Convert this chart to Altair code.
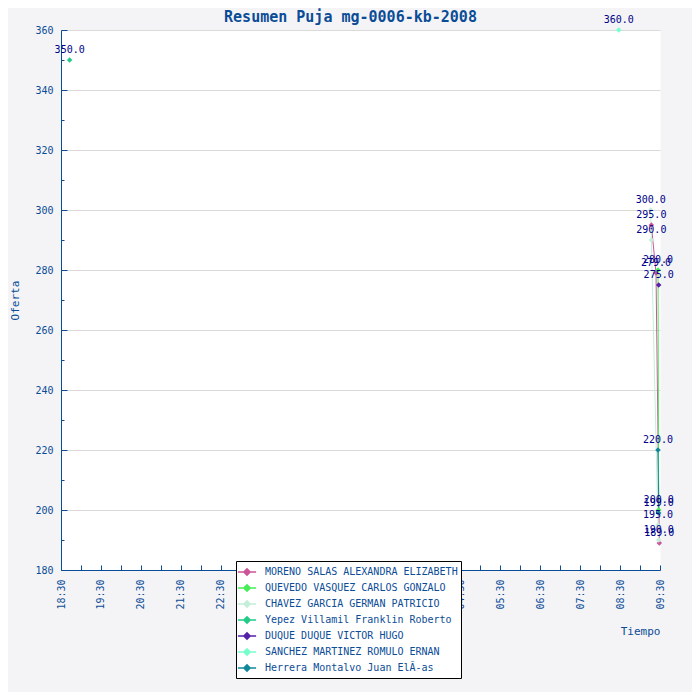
import altair as alt
import pandas as pd

# ---------------- data ----------------
names = [
    "MORENO SALAS ALEXANDRA ELIZABETH",
    "QUEVEDO VASQUEZ CARLOS GONZALO",
    "CHAVEZ GARCIA GERMAN PATRICIO",
    "Yepez Villamil Franklin Roberto",
    "DUQUE DUQUE VICTOR HUGO",
    "SANCHEZ MARTINEZ ROMULO ERNAN",
    "Herrera Montalvo Juan ElÃ-as",
]
colors = ["#cc5599", "#44ee55", "#c4eed8", "#22cc88", "#5522aa", "#77ffcc", "#118899"]

moreno_t = ["09:17", "09:24", "09:29"]
moreno_v = [295, 279, 189]
quevedo_t = ["09:27", "09:28"]
quevedo_v = [280, 200]
chavez_t = ["09:16", "09:17", "09:27", "09:28"]
chavez_v = [300, 290, 195, 190]
yepez_t = ["18:43"]
yepez_v = [350]
duque_t = ["09:28"]
duque_v = [275]
sanchez_t = ["08:28"]
sanchez_v = [360]
herrera_t = ["09:27", "09:28"]
herrera_v = [220, 199]

x_labels = ["18:30", "19:30", "20:30", "21:30", "22:30", "23:30", "00:30", "01:30",
            "02:30", "03:30", "04:30", "05:30", "06:30", "07:30", "08:30", "09:30"]
y_labels = [180, 200, 220, 240, 260, 280, 300, 320, 340, 360]
y_minor = [190, 210, 230, 250, 270, 290, 310, 330, 350]

START = 18 * 60 + 30


def minutes(t):
    h, m = map(int, t.split(":"))
    return (h * 60 + m - START) % 1440


series = [
    (names[0], moreno_t, moreno_v),
    (names[1], quevedo_t, quevedo_v),
    (names[2], chavez_t, chavez_v),
    (names[3], yepez_t, yepez_v),
    (names[4], duque_t, duque_v),
    (names[5], sanchez_t, sanchez_v),
    (names[6], herrera_t, herrera_v),
]
rows = []
for name, ts, vs in series:
    for t, v in zip(ts, vs):
        rows.append({"s": name, "t": t, "m": minutes(t), "v": v})
df = pd.DataFrame(rows)

x_vals = [minutes(t) for t in x_labels]
x_vals[-1] = 900  # 09:30 closes the span (next day)
x_ticks = sorted(set(x_vals + [v + 30 for v in x_vals[:-1]]))

# ---------------- style ----------------
BLUE = "#0b4c97"
NAVY = "#000088"
MONO = "DejaVu Sans Mono"

xscale = alt.Scale(domain=[0, 900], nice=False, zero=False)
yscale = alt.Scale(domain=[180, 360], nice=False, zero=False)

label_expr = ("pad(toString(floor(((%d + datum.value) %% 1440) / 60)), 2, '0', 'left') + ':' + "
              "pad(toString((%d + datum.value) %% 60), 2, '0', 'left')") % (START, START)

x_main = alt.X(
    "m:Q", scale=xscale,
    axis=alt.Axis(
        orient="bottom", values=x_vals, labelExpr=label_expr, labelAngle=270,
        labelPadding=9, labelFlush=False, labelOverlap=False, ticks=False, tickSize=0,
        domainColor=BLUE, labelColor=BLUE, labelFont=MONO, labelFontSize=10, grid=False,
        title="Tiempo", titleX=599, titleY=55, titleAlign="right", titleBaseline="top",
        titleFont=MONO, titleFontSize=11, titleFontWeight="normal", titleColor=BLUE,
    ),
)
y_main = alt.Y(
    "v:Q", scale=yscale,
    axis=alt.Axis(
        orient="left", values=y_labels, ticks=False, tickSize=0, labelPadding=8,
        labelFont=MONO, labelFontSize=10, labelColor=BLUE, domainColor=BLUE,
        grid=True, gridColor="#dadada", labelFlush=False,
        title="Oferta", titleAngle=270, titleX=-46, titleY=270, titleAlign="center",
        titleBaseline="middle", titleFont=MONO, titleFontSize=11,
        titleFontWeight="normal", titleColor=BLUE,
    ),
)
x_tick = alt.X(
    "m:Q", scale=xscale,
    axis=alt.Axis(orient="bottom", values=x_ticks, labels=False, domain=False, grid=False,
                  ticks=True, tickSize=5, tickColor=BLUE, offset=-5, title=None),
)
y_tick = alt.Y(
    "v:Q", scale=yscale,
    axis=alt.Axis(orient="left", values=y_labels, labels=False, domain=False, grid=False,
                  ticks=True, tickSize=6, tickColor=BLUE, offset=-6, title=None),
)
y_tick2 = alt.Y(
    "v:Q", scale=yscale,
    axis=alt.Axis(orient="left", values=y_minor, labels=False, domain=False, grid=False,
                  ticks=True, tickSize=3, tickColor=BLUE, offset=-3, title=None),
)

SYMBOL = "M-1.3,0L1.3,0M0,-0.45L0.45,0L0,0.45L-0.45,0Z"
legend = alt.Legend(
    orient="none", legendX=175, legendY=531, title=None, symbolType=SYMBOL,
    symbolSize=196, symbolStrokeWidth=1.5, symbolOpacity=1, labelFont=MONO,
    labelFontSize=10, labelColor=BLUE, labelOffset=10, labelLimit=320, padding=3,
    rowPadding=1, fillColor="white", strokeColor="black",
)
color = alt.Color("s:N", scale=alt.Scale(domain=names, range=colors), legend=legend)

base = alt.Chart(df)
lines = base.mark_line(strokeWidth=1).encode(
    x=x_main, y=y_main, color=color, order="m:Q"
)
points = base.mark_point(shape="diamond", filled=True, size=30, opacity=1).encode(
    x=x_tick, y=y_tick, color=color
)
texts = base.mark_text(dy=-10, fontSize=10, font=MONO, color=NAVY).encode(
    x=alt.X("m:Q", scale=xscale, axis=None),
    y=y_tick2,
    text=alt.Text("v:Q", format=".1f"),
)

chart = (
    alt.layer(lines, points, texts)
    .resolve_axis(x="independent", y="independent")
    .properties(
        width=599, height=540, background="#f4f4f6",
        padding={"left": 53, "top": 22, "right": 32, "bottom": 122},
        autosize=alt.AutoSizeParams(type="none"),
        title=alt.TitleParams(
            "Resumen Puja mg-0006-kb-2008", font=MONO, fontSize=15, fontWeight="bold",
            color=BLUE, anchor="middle", frame="group", offset=8, dx=-10, dy=18,
        ),
    )
    .configure_view(fill="white", stroke="transparent")
)

chart.save("out.html", embed_options={"renderer": "svg", "actions": False})
